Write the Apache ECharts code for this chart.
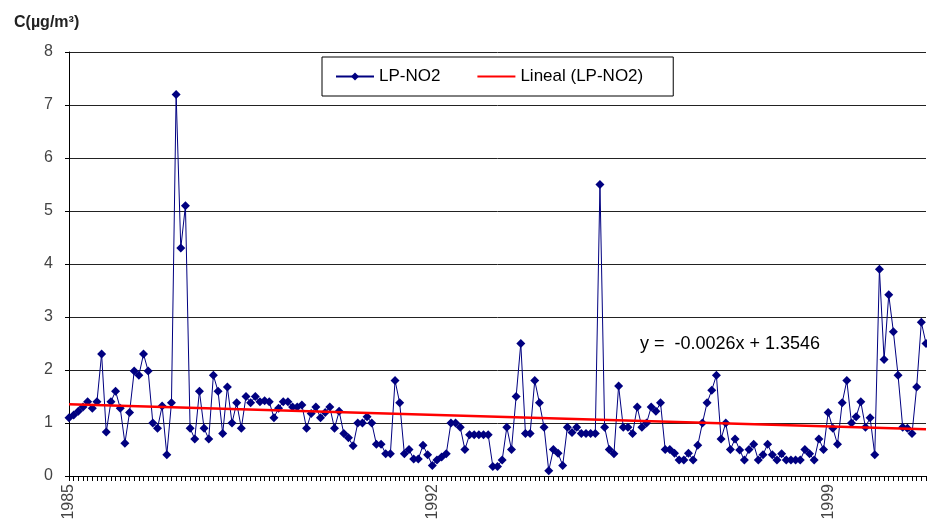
<!DOCTYPE html>
<html>
<head>
<meta charset="utf-8">
<script src="https://cdn.jsdelivr.net/npm/echarts@6/dist/echarts.min.js"></script>
<style>
  html, body { margin: 0; padding: 0; background: #fff; }
  #chart { width: 927px; height: 526px; }
</style>
</head>
<body>
<div id="chart"></div>
<script>
// LP-NO2 series (one value per sample)
const no2Values = [
  1.1, 1.15, 1.22, 1.3, 1.4, 1.28, 1.4, 2.3, 0.83, 1.4, 1.6, 1.28, 0.62, 1.2, 1.98, 1.9, 2.3, 1.98, 1.0, 0.9, 1.32, 0.4, 1.38,
  7.2, 4.3, 5.1, 0.9, 0.7, 1.6, 0.9, 0.7, 1.9, 1.6, 0.8, 1.68, 1.0, 1.38, 0.9, 1.5, 1.38, 1.5, 1.4, 1.42, 1.4, 1.1, 1.28, 1.4, 1.4,
  1.3, 1.3, 1.34, 0.9, 1.18, 1.3, 1.1, 1.2, 1.3, 0.9, 1.22, 0.8, 0.72, 0.57, 1.0, 1.0, 1.12, 1.0, 0.6, 0.6, 0.42, 0.42,
  1.8, 1.38, 0.42, 0.5, 0.32, 0.32, 0.58, 0.4, 0.2, 0.3, 0.36, 0.42, 1.0, 1.0, 0.92, 0.5, 0.78, 0.78, 0.78, 0.78, 0.78, 0.18, 0.18, 0.3,
  0.92, 0.5, 1.5, 2.5, 0.8, 0.8, 1.8, 1.38, 0.92, 0.1, 0.5, 0.43, 0.2, 0.92, 0.82, 0.92, 0.8, 0.8, 0.8, 0.8, 5.5,
  0.92, 0.5, 0.42, 1.7, 0.92, 0.92, 0.8, 1.3, 0.92, 1.0, 1.3, 1.22, 1.38, 0.5, 0.5, 0.43, 0.3, 0.3, 0.43, 0.3, 0.58,
  1.0, 1.38, 1.62, 1.9, 0.7, 1.0, 0.5, 0.7, 0.49, 0.3, 0.5, 0.6, 0.3, 0.4, 0.6, 0.4, 0.3, 0.42, 0.3, 0.3, 0.3, 0.3,
  0.5, 0.42, 0.3, 0.7, 0.5, 1.2, 0.9, 0.6, 1.38, 1.8, 1.0, 1.12, 1.4, 0.92, 1.1, 0.4, 3.9, 2.2, 3.42, 2.72, 1.9, 0.92, 0.9, 0.8, 1.68, 2.9, 2.5
];

// year labels on the category axis and the sample index where each sits
const yearLabels = ['1985', '1992', '1999'];
const yearIndex = [0, 78, 163];

// linear trend (Lineal) – value at the first and at the last sample
const trendEnds = [1.352, 0.88];

const yTicks = [0, 1, 2, 3, 4, 5, 6, 7, 8];

const categories = no2Values.map((v, i) => {
  const k = yearIndex.indexOf(i);
  return k >= 0 ? yearLabels[k] : '';
});
const trendData = no2Values.map((v, i) => {
  if (i === 0) return trendEnds[0];
  if (i === no2Values.length - 1) return trendEnds[1];
  return null;
});

const chart = echarts.init(document.getElementById('chart'));
const option = {
  animation: false,
  backgroundColor: '#fff',
  textStyle: { fontFamily: 'Liberation Sans, Arial, sans-serif' },
  title: {
    text: 'C(µg/m³)',
    left: 9,
    top: 10,
    textStyle: { fontSize: 16, fontWeight: 'bold', color: '#222' }
  },
  legend: {
    left: 322,
    top: 57,
    padding: [11, 30, 11, 13],
    itemGap: 36,
    itemWidth: 38,
    itemHeight: 10,
    borderColor: '#000',
    borderWidth: 1,
    backgroundColor: '#fff',
    textStyle: { fontSize: 17, color: '#000' },
    data: [
      { name: 'LP-NO2' },
      { name: 'Lineal (LP-NO2)', itemStyle: { color: 'rgba(0,0,0,0)', borderWidth: 0 } }
    ]
  },
  grid: { left: 69, right: 1, top: 52, bottom: 50 },
  xAxis: {
    type: 'category',
    data: categories,
    boundaryGap: false,
    axisLine: { lineStyle: { color: '#000', width: 1 } },
    axisTick: { interval: 0, length: 5, lineStyle: { color: '#000' } },
    axisLabel: {
      interval: 0,
      rotate: 90,
      fontSize: 16,
      color: '#444',
      margin: 8
    },
    splitLine: { show: false }
  },
  yAxis: {
    type: 'value',
    min: yTicks[0],
    max: yTicks[yTicks.length - 1],
    interval: 1,
    axisLine: { show: true, lineStyle: { color: '#000' } },
    axisTick: { show: true, inside: false, length: 4, lineStyle: { color: '#000' } },
    axisLabel: { fontSize: 16, color: '#444', margin: 16 },
    splitLine: { lineStyle: { color: '#222', width: 1 } }
  },
  series: [
    {
      name: 'LP-NO2',
      type: 'line',
      data: no2Values,
      symbol: 'diamond',
      symbolSize: 9,
      itemStyle: { color: '#000080' },
      lineStyle: { color: '#000080', width: 1 },
      z: 3
    },
    {
      name: 'Lineal (LP-NO2)',
      type: 'line',
      data: trendData,
      connectNulls: true,
      showSymbol: false,
      symbol: 'none',
      itemStyle: { color: '#ff0000' },
      lineStyle: { color: '#ff0000', width: 2.5 },
      z: 4
    }
  ],
  graphic: [
    {
      type: 'text',
      left: 640,
      top: 335,
      style: { text: 'y =  -0.0026x + 1.3546', fontSize: 18, fill: '#000', fontFamily: 'Liberation Sans, Arial, sans-serif' }
    }
  ]
};
chart.setOption(option);
</script>
</body>
</html>
